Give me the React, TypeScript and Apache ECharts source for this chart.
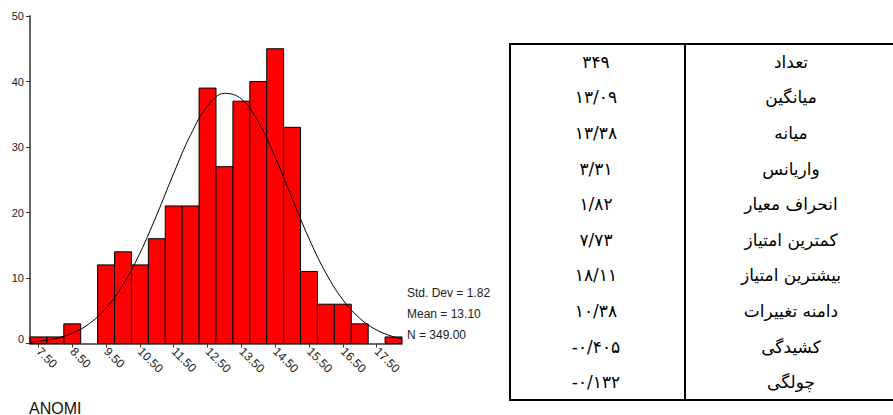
import React, { useEffect, useRef } from "react";
import * as echarts from "echarts";

// Histogram bins (bin width 0.5) and counts
const binCenters = [7.5, 8, 8.5, 9, 9.5, 10, 10.5, 11, 11.5, 12, 12.5, 13, 13.5, 14, 14.5, 15, 15.5, 16, 16.5, 17, 17.5, 18];
const counts = [1, 1, 3, 0, 12, 14, 12, 16, 21, 21, 39, 27, 37, 40, 45, 33, 11, 6, 6, 3, 0, 1];

// Normal curve points
const curveX = [7.25, 7.5, 8, 8.5, 9, 9.5, 10, 10.5, 11, 11.5, 12, 12.5, 13, 13.5, 14, 14.5, 15, 15.5, 16, 16.5, 17, 17.5, 18, 18.25];
const curveY = [0.22, 0.34, 0.75, 1.57, 3.02, 5.41, 8.97, 13.79, 19.66, 25.99, 31.87, 36.23, 38.19, 37.34, 33.85, 28.45, 22.18, 16.03, 10.75, 6.68, 3.85, 2.06, 1.02, 0.7];

const xTickValues = [7.5, 8.5, 9.5, 10.5, 11.5, 12.5, 13.5, 14.5, 15.5, 16.5, 17.5];
const statLines = ["Std. Dev = 1.82", "Mean = 13.10", "N = 349.00"];
const axisTitle = "ANOMI";

const tableLabels = ["تعداد", "میانگین", "میانه", "واریانس", "انحراف معیار", "کمترین امتیاز", "بیشترین امتیاز", "دامنه تغییرات", "کشیدگی", "چولگی"];
const tableValues = ["۳۴۹", "۱۳/۰۹", "۱۳/۳۸", "۳/۳۱", "۱/۸۲", "۷/۷۳", "۱۸/۱۱", "۱۰/۳۸", "-۰/۴۰۵", "-۰/۱۳۲"];

export default function App() {
  const ref = useRef<HTMLDivElement>(null);
  useEffect(() => {
    document.body.style.margin = "0";
    const chart = echarts.init(ref.current!, null, { renderer: "svg" });

    const tTop = 44, tBottom = 400, tLeft = 510, tMid = 685, tRight = 893;
    const rowH = (tBottom - tTop) / tableLabels.length;
    const tableGraphics: any[] = [
      { type: "line", shape: { x1: tLeft, y1: tTop, x2: tRight, y2: tTop }, style: { stroke: "#000", lineWidth: 2 } },
      { type: "line", shape: { x1: tLeft, y1: tBottom, x2: tRight, y2: tBottom }, style: { stroke: "#000", lineWidth: 2 } },
      { type: "line", shape: { x1: tLeft, y1: tTop - 1, x2: tLeft, y2: tBottom + 1 }, style: { stroke: "#000", lineWidth: 2 } },
      { type: "line", shape: { x1: tMid, y1: tTop, x2: tMid, y2: tBottom }, style: { stroke: "#000", lineWidth: 2 } },
    ];
    tableLabels.forEach((lab, i) => {
      const cy = tTop + rowH * (i + 0.5);
      tableGraphics.push({
        type: "text",
        style: { text: lab, x: 791, y: cy, fill: "#000", font: '17px "DejaVu Sans"', textAlign: "center", textVerticalAlign: "middle" },
      });
      tableGraphics.push({
        type: "text",
        style: { text: tableValues[i], x: 596, y: cy, fill: "#000", font: '17px "DejaVu Sans"', textAlign: "center", textVerticalAlign: "middle" },
      });
    });

    const statGraphics = statLines.map((s, i) => ({
      type: "text",
      style: { text: s, x: 407, y: 293 + i * 21, fill: "#222", font: '12px "Liberation Sans"', textAlign: "left", textVerticalAlign: "middle" },
    }));

    chart.setOption({
      animation: false,
      grid: { left: 30, top: 16, width: 372, height: 327.5, containLabel: false },
      xAxis: {
        type: "value",
        min: 7.25,
        max: 18.25,
        splitLine: { show: false },
        axisLine: { show: true, lineStyle: { color: "#666", width: 2 } },
        axisTick: { show: true, customValues: xTickValues, length: 4, lineStyle: { color: "#333", width: 1 } },
        axisLabel: {
          customValues: xTickValues,
          rotate: -45,
          formatter: (v: number) => v.toFixed(2),
          fontSize: 12,
          fontFamily: "Liberation Sans",
          color: "#222",
          margin: 6,
        },
      },
      yAxis: {
        type: "value",
        min: 0,
        max: 50,
        interval: 10,
        splitLine: { show: false },
        axisLine: { show: true, lineStyle: { color: "#666", width: 2 } },
        axisTick: { show: true, length: 4, lineStyle: { color: "#333", width: 1 } },
        axisLabel: {
          fontSize: 11,
          fontFamily: "Liberation Sans",
          color: "#222",
          margin: 6,
          formatter: (v: number) => (v === 0 ? "{z|0}" : String(v)),
          rich: { z: { fontSize: 11, fontFamily: "Liberation Sans", color: "#222", padding: [0, 0, 10, 0] } },
        },
      },
      series: [
        {
          type: "custom",
          data: binCenters.map((c, i) => [c, counts[i]]),
          encode: { x: 0, y: 1 },
          renderItem: (params: any, api: any) => {
            const x = api.value(0);
            const y = api.value(1);
            if (!y) return null;
            const p0 = api.coord([x - 0.25, y]);
            const p1 = api.coord([x + 0.25, 0]);
            return {
              type: "rect",
              shape: { x: p0[0], y: p0[1], width: p1[0] - p0[0], height: p1[1] - p0[1] },
              style: { fill: "#ff0000", stroke: "#000", lineWidth: 1 },
            };
          },
          z: 2,
        },
        {
          type: "line",
          data: curveX.map((x, i) => [x, curveY[i]]),
          smooth: 0.4,
          showSymbol: false,
          lineStyle: { color: "#000", width: 1 },
          z: 3,
        },
      ],
      graphic: [
        ...statGraphics,
        {
          type: "text",
          style: { text: axisTitle, x: 29, y: 408, fill: "#111", font: '16px "Liberation Sans"', textAlign: "left", textVerticalAlign: "middle" },
        },
        ...tableGraphics,
      ],
    });
    return () => chart.dispose();
  }, []);
  return <div ref={ref} style={{ width: 893, height: 415 }} />;
}
